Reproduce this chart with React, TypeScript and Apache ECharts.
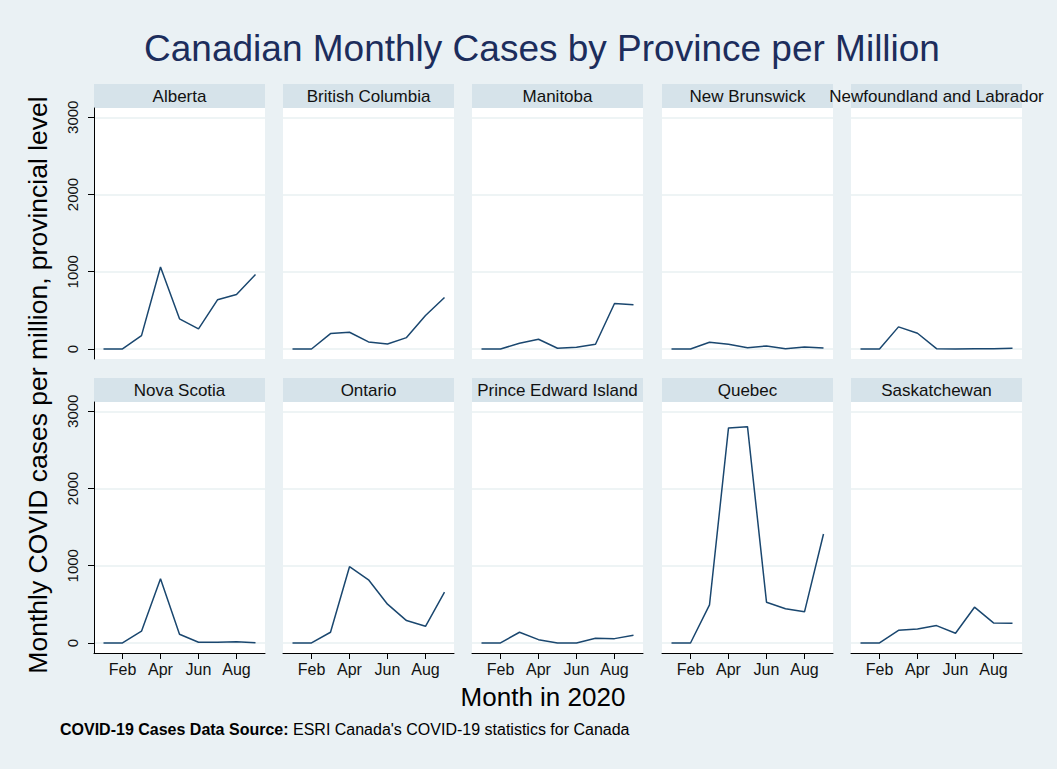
import React, { useEffect, useRef } from 'react';
import * as echarts from 'echarts';

const months = ['Jan', 'Feb', 'Mar', 'Apr', 'May', 'Jun', 'Jul', 'Aug', 'Sep'];
const yTicks = [0, 1000, 2000, 3000];
const provinces = [
  'Alberta',
  'British Columbia',
  'Manitoba',
  'New Brunswick',
  'Newfoundland and Labrador',
  'Nova Scotia',
  'Ontario',
  'Prince Edward Island',
  'Quebec',
  'Saskatchewan',
];
const alberta = [0, 0, 173, 1061, 390, 260, 636, 705, 965];
const britishColumbia = [0, 0, 199, 216, 91, 65, 147, 433, 667];
const manitoba = [0, 0, 74, 126, 9, 22, 61, 589, 571];
const newBrunswick = [0, 0, 87, 61, 17, 39, 4, 26, 13];
const newfoundland = [0, 0, 286, 203, 4, 0, 4, 4, 9];
const novaScotia = [0, 0, 152, 831, 113, 9, 9, 17, 4];
const ontario = [0, 0, 139, 987, 818, 502, 290, 216, 658];
const pei = [0, 0, 139, 43, 0, 0, 61, 56, 100];
const quebec = [0, 0, 494, 2784, 2801, 528, 442, 403, 1411];
const saskatchewan = [0, 0, 164, 182, 225, 126, 463, 260, 255];
const seriesValues = [
  alberta, britishColumbia, manitoba, newBrunswick, newfoundland,
  novaScotia, ontario, pei, quebec, saskatchewan,
];

const FONT = '"Liberation Sans", Arial, sans-serif';
const BG = '#eaf1f4';
const STRIP = '#d6e3ea';
const GRIDLINE = '#e8f0f2';
const LINE = '#1a476f';

const COL_LEFT = [94, 283, 472, 662, 851];
const ROW_TOP = [108, 402];
const PW = 171;
const PH = 251;
const STRIP_H = 24;

export default function App() {
  const ref = useRef<HTMLDivElement>(null);
  useEffect(() => {
    if (!ref.current) return;
    const chart = echarts.init(ref.current, undefined, { renderer: 'svg' });
    const grids: any[] = [];
    const xAxes: any[] = [];
    const yAxes: any[] = [];
    const series: any[] = [];
    const graphics: any[] = [];
    provinces.forEach((name, i) => {
      const row = Math.floor(i / 5);
      const col = i % 5;
      const left = COL_LEFT[col];
      const top = ROW_TOP[row];
      grids.push({
        left, top, width: PW, height: PH,
        show: true, backgroundColor: '#ffffff', borderWidth: 0,
      });
      xAxes.push({
        gridIndex: i,
        type: 'category',
        data: months,
        boundaryGap: true,
        axisLine: { show: row === 1, onZero: false, lineStyle: { color: '#000', width: 1 } },
        axisTick: {
          show: row === 1, alignWithLabel: true, length: 6,
          interval: (idx: number) => idx % 2 === 1,
          lineStyle: { color: '#000', width: 1 },
        },
        axisLabel: {
          show: row === 1, interval: (idx: number) => idx % 2 === 1,
          fontSize: 16, color: '#111', margin: 8, fontFamily: FONT,
        },
        splitLine: { show: false },
      });
      yAxes.push({
        gridIndex: i,
        type: 'value',
        min: -130,
        max: 3120,
        axisLine: { show: col === 0, lineStyle: { color: '#000', width: 1 } },
        axisTick: {
          show: col === 0, length: 6, customValues: yTicks,
          lineStyle: { color: '#000', width: 1 },
        },
        axisLabel: {
          show: col === 0, rotate: 90, customValues: yTicks,
          formatter: (v: number) => String(v),
          fontSize: 15, color: '#111', margin: 14, fontFamily: FONT,
        },
        splitLine: { show: true, lineStyle: { color: GRIDLINE, width: 1.5 } },
      });
      series.push({
        type: 'line',
        name,
        xAxisIndex: i,
        yAxisIndex: i,
        data: seriesValues[i],
        symbol: 'none',
        showSymbol: false,
        lineStyle: { color: LINE, width: 1.5 },
        z: 5,
      });
      graphics.push({
        type: 'rect',
        shape: { x: left, y: top - STRIP_H, width: PW, height: STRIP_H },
        style: { fill: STRIP },
        silent: true,
      });
      graphics.push({
        type: 'text',
        x: left + PW / 2,
        y: top - STRIP_H / 2,
        style: {
          text: name, fontSize: 17, fontFamily: FONT, fill: '#111',
          textAlign: 'center', textVerticalAlign: 'middle',
          align: 'center', verticalAlign: 'middle',
        },
        silent: true,
      });
    });
    graphics.push({
      type: 'text', x: 542, y: 48,
      style: {
        text: 'Canadian Monthly Cases by Province per Million',
        fontSize: 37, fontFamily: FONT, fill: '#1c2d5c',
        textAlign: 'center', textVerticalAlign: 'middle', align: 'center', verticalAlign: 'middle',
      },
    });
    graphics.push({
      type: 'text', x: 38, y: 385, rotation: Math.PI / 2,
      style: {
        text: 'Monthly COVID cases per million, provincial level',
        fontSize: 26.5, fontFamily: FONT, fill: '#000',
        textAlign: 'center', textVerticalAlign: 'middle', align: 'center', verticalAlign: 'middle',
      },
    });
    graphics.push({
      type: 'text', x: 543, y: 697,
      style: {
        text: 'Month in 2020',
        fontSize: 26, fontFamily: FONT, fill: '#000',
        textAlign: 'center', textVerticalAlign: 'middle', align: 'center', verticalAlign: 'middle',
      },
    });
    graphics.push({
      type: 'text', x: 60, y: 729,
      style: {
        text: '{b|COVID-19 Cases Data Source:} ESRI Canada\'s COVID-19 statistics for Canada',
        fontSize: 16, fontFamily: FONT, fill: '#000',
        rich: { b: { fontWeight: 'bold', fontSize: 16, fontFamily: FONT, fill: '#000' } },
        textAlign: 'left', textVerticalAlign: 'middle', align: 'left', verticalAlign: 'middle',
      },
    });
    chart.setOption({
      animation: false,
      backgroundColor: BG,
      grid: grids,
      xAxis: xAxes,
      yAxis: yAxes,
      series,
      graphic: { elements: graphics },
    });
    return () => chart.dispose();
  }, []);
  return (
    <div
      ref={ref}
      style={{ position: 'fixed', left: 0, top: 0, width: 1057, height: 769 }}
    />
  );
}
